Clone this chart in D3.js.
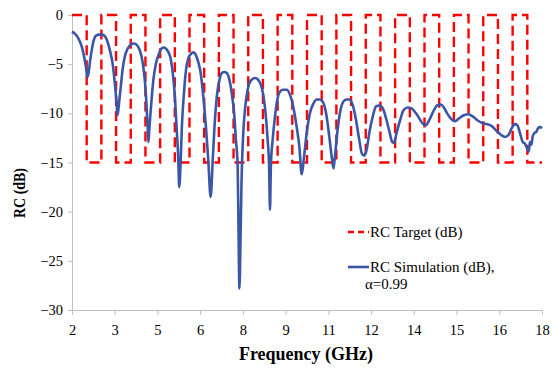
<!DOCTYPE html>
<html>
<head>
<meta charset="utf-8">
<script src="https://cdn.jsdelivr.net/npm/d3@7"></script>
<style>
  body { margin: 0; background: #fff; }
  svg text { font-family: "Liberation Serif", "Times New Roman", Times, "DejaVu Serif", serif; fill: #000; }
  .axis path, .axis line { stroke: #bfbfbf; }
</style>
</head>
<body>
<div id="chart"></div>
<script>
// x tick labels as printed on the category axis
const tickLabels = ["2", "3", "5", "6", "8", "9", "11", "12", "14", "15", "16", "18"];
const yTicks = [0, -5, -10, -15, -20, -25, -30];

// target: square wave between 0 and -15 dB, switching every 0.5 GHz
const targetFreq = [2, 2.5, 2.5, 3, 3, 3.5, 3.5, 4, 4, 4.5, 4.5, 5, 5, 5.5, 5.5, 6, 6, 6.5, 6.5, 7, 7, 7.5, 7.5, 8, 8, 8.5, 8.5, 9, 9, 9.5, 9.5, 10, 10, 10.5, 10.5, 11, 11, 11.5, 11.5, 12, 12, 12.5, 12.5, 13, 13, 13.5, 13.5, 14, 14, 14.5, 14.5, 15, 15, 15.5, 15.5, 16, 16, 16.5, 16.5, 17, 17, 17.5, 17.5, 18];
const targetDb = [0, 0, -15, -15, 0, 0, -15, -15, 0, 0, -15, -15, 0, 0, -15, -15, 0, 0, -15, -15, 0, 0, -15, -15, 0, 0, -15, -15, 0, 0, -15, -15, 0, 0, -15, -15, 0, 0, -15, -15, 0, 0, -15, -15, 0, 0, -15, -15, 0, 0, -15, -15, 0, 0, -15, -15, 0, 0, -15, -15, 0, 0, -15, -15];

// simulation
const simFreq = [2.00, 2.10, 2.22, 2.33, 2.41, 2.48, 2.52, 2.57, 2.61, 2.67, 2.73, 2.82, 2.92, 3.01, 3.10, 3.18, 3.29, 3.38, 3.46, 3.52, 3.55, 3.60, 3.66, 3.72, 3.80, 3.90, 4.00, 4.11, 4.22, 4.31, 4.41, 4.49, 4.54, 4.58, 4.60, 4.63, 4.69, 4.77, 4.86, 4.94, 5.05, 5.13, 5.22, 5.34, 5.43, 5.51, 5.56, 5.62, 5.65, 5.70, 5.74, 5.81, 5.88, 5.96, 6.04, 6.13, 6.22, 6.30, 6.38, 6.47, 6.56, 6.64, 6.72, 6.79, 6.85, 6.93, 7.02, 7.10, 7.19, 7.27, 7.36, 7.44, 7.52, 7.58, 7.64, 7.67, 7.70, 7.74, 7.77, 7.83, 7.90, 7.98, 8.08, 8.23, 8.34, 8.43, 8.51, 8.59, 8.66, 8.71, 8.74, 8.77, 8.83, 8.91, 8.99, 9.08, 9.19, 9.31, 9.42, 9.53, 9.65, 9.74, 9.82, 9.90, 9.99, 10.10, 10.22, 10.33, 10.42, 10.53, 10.65, 10.76, 10.84, 10.90, 10.95, 11.03, 11.12, 11.24, 11.35, 11.44, 11.56, 11.67, 11.78, 11.87, 11.95, 12.03, 12.12, 12.24, 12.35, 12.46, 12.58, 12.69, 12.81, 12.90, 12.96, 13.05, 13.17, 13.28, 13.42, 13.56, 13.71, 13.84, 13.96, 14.05, 14.16, 14.30, 14.43, 14.55, 14.66, 14.77, 14.92, 15.04, 15.18, 15.34, 15.49, 15.64, 15.80, 15.98, 16.14, 16.29, 16.46, 16.61, 16.74, 16.86, 16.97, 17.08, 17.16, 17.25, 17.34, 17.42, 17.50, 17.55, 17.59, 17.64, 17.68, 17.74, 17.80, 17.87, 17.93, 18.00];
const simDb = [-1.7, -1.9, -2.4, -3.2, -4.2, -5.4, -6.3, -5.8, -4.8, -3.6, -2.7, -2.1, -2.0, -2.0, -2.1, -2.5, -3.6, -4.9, -7.0, -9.0, -10.2, -9.0, -7.3, -5.6, -4.2, -3.4, -3.0, -2.9, -3.1, -3.6, -4.9, -7.0, -9.3, -11.7, -12.9, -11.7, -9.3, -6.6, -4.9, -4.1, -3.4, -3.3, -3.5, -4.2, -5.9, -8.6, -11.4, -14.8, -17.5, -14.8, -11.4, -8.0, -5.6, -4.4, -4.0, -3.8, -4.1, -4.8, -5.9, -8.3, -11.4, -14.8, -18.5, -14.8, -11.4, -8.3, -6.6, -5.9, -5.8, -5.9, -6.6, -8.0, -10.0, -12.7, -15.4, -22.2, -27.8, -22.2, -17.1, -12.0, -9.3, -7.6, -6.7, -6.4, -6.6, -7.1, -8.1, -10.0, -12.7, -15.4, -19.8, -15.4, -12.7, -10.3, -8.6, -7.8, -7.6, -7.6, -8.1, -9.3, -11.4, -13.4, -16.2, -14.4, -12.0, -10.0, -9.0, -8.6, -8.6, -8.8, -10.0, -12.4, -14.4, -15.6, -14.4, -12.0, -10.0, -8.8, -8.6, -8.6, -9.2, -10.7, -12.7, -14.1, -14.3, -13.7, -12.0, -10.3, -9.3, -9.2, -9.5, -10.5, -11.9, -12.9, -13.0, -12.0, -10.7, -9.7, -9.4, -9.5, -10.0, -10.6, -11.1, -11.2, -10.7, -9.8, -9.2, -9.1, -9.4, -10.0, -10.6, -10.8, -10.5, -10.2, -10.1, -10.3, -10.7, -11.0, -11.1, -11.3, -11.8, -12.2, -12.4, -12.2, -11.5, -11.1, -11.2, -12.0, -12.9, -13.1, -13.6, -13.9, -12.9, -13.2, -12.4, -12.0, -11.9, -11.5, -11.4, -11.5];

const margin = { top: 15, right: 12, bottom: 58, left: 72 };
const width = 554 - margin.left - margin.right;
const height = 368 - margin.top - margin.bottom;
const serif = "'Liberation Serif', 'Times New Roman', Times, 'DejaVu Serif', serif";

const svg = d3.select("#chart").append("svg")
  .attr("width", 554)
  .attr("height", 368)
  .attr("font-family", serif);

const g = svg.append("g")
  .attr("transform", `translate(${margin.left},${margin.top})`);

const x = d3.scaleLinear().domain([2, 18]).range([0, width]);
const xCat = d3.scalePoint().domain(tickLabels).range([0, width]);
const y = d3.scaleLinear().domain([-30, 0]).range([height, 0]);

// axes
const xAxis = g.append("g")
  .attr("class", "axis")
  .attr("transform", `translate(0,${height})`)
  .call(d3.axisBottom(xCat).tickSizeInner(5).tickSizeOuter(0).tickPadding(10));
xAxis.attr("font-family", serif).attr("font-size", 14.5);

const yAxis = g.append("g")
  .attr("class", "axis")
  .call(d3.axisLeft(y).tickValues(yTicks).tickFormat(d3.format("d")).tickSizeInner(4).tickSizeOuter(0).tickPadding(5));
yAxis.attr("font-family", serif).attr("font-size", 14.5);

const line = d3.line().x(d => x(d[0])).y(d => y(d[1]));

g.append("path")
  .datum(d3.zip(targetFreq, targetDb))
  .attr("fill", "none")
  .attr("stroke", "#ff0000")
  .attr("stroke-width", 2.4)
  .attr("stroke-dasharray", "10,5")
  .attr("d", line);

g.append("path")
  .datum(d3.zip(simFreq, simDb))
  .attr("fill", "none")
  .attr("stroke", "#3b56a6")
  .attr("stroke-width", 2.6)
  .attr("stroke-linejoin", "round")
  .attr("d", line.curve(d3.curveMonotoneX));

// axis titles
svg.append("text")
  .attr("transform", "translate(25,193) rotate(-90)")
  .attr("text-anchor", "middle")
  .attr("font-size", 16)
  .attr("font-weight", "bold")
  .attr("textLength", 50)
  .attr("lengthAdjust", "spacingAndGlyphs")
  .text("RC (dB)");

svg.append("text")
  .attr("x", 306)
  .attr("y", 360)
  .attr("text-anchor", "middle")
  .attr("font-size", 18)
  .attr("font-weight", "bold")
  .text("Frequency (GHz)");

// legend
const legend = svg.append("g").attr("font-size", 15);
legend.append("line")
  .attr("x1", 348).attr("x2", 369).attr("y1", 232).attr("y2", 232)
  .attr("stroke", "#ff0000").attr("stroke-width", 2.4).attr("stroke-dasharray", "6,4");
legend.append("text").attr("x", 370).attr("y", 237).text("RC Target (dB)");

legend.append("line")
  .attr("x1", 348).attr("x2", 369).attr("y1", 267).attr("y2", 267)
  .attr("stroke", "#3b56a6").attr("stroke-width", 2.6);
legend.append("text").attr("x", 370).attr("y", 272).text("RC Simulation (dB),");
legend.append("text").attr("x", 365).attr("y", 288.5).text("α=0.99");
</script>
</body>
</html>
